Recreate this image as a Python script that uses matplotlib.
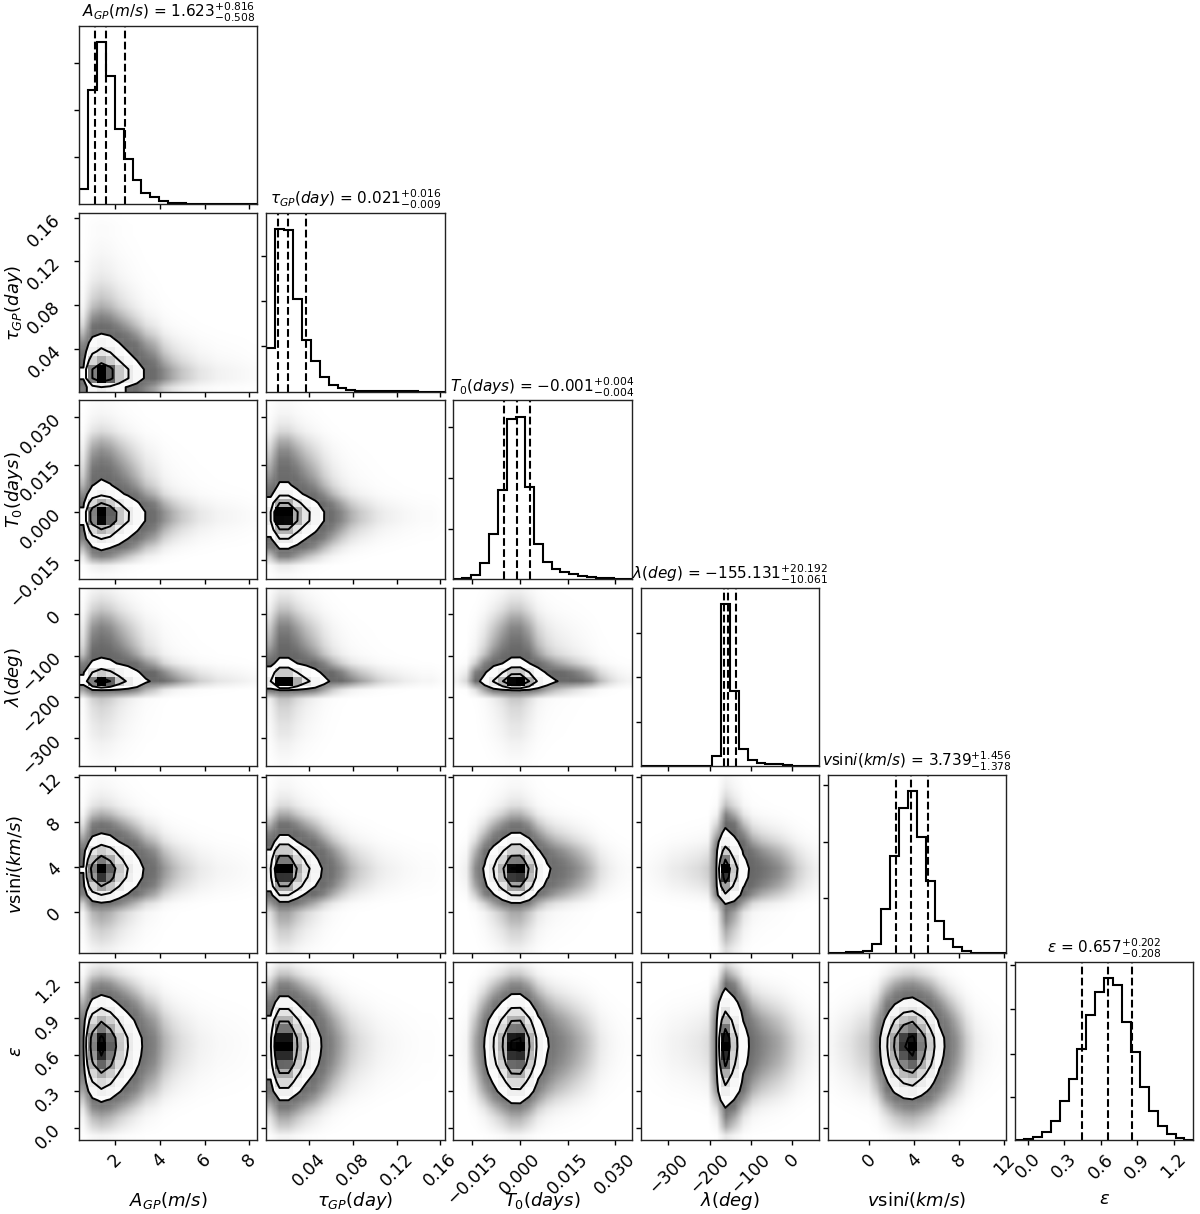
import numpy as np
import matplotlib
matplotlib.use("Agg")
import matplotlib.pyplot as plt
from matplotlib.colors import LinearSegmentedColormap
from matplotlib.ticker import FuncFormatter, FixedLocator

# parameter labels and the summary numbers printed in the titles
labels = [r"$A_{GP}(m/s)$", r"$\tau_{GP}(day)$", r"$T_0(days)$",
          r"$\lambda(deg)$", r"$v\mathrm{sin}i(km/s)$", r"$\varepsilon$"]
medians = [1.623, 0.021, -0.001, -155.131, 3.739, 0.657]
err_lo = [0.508, 0.009, 0.004, 10.061, 1.378, 0.208]
err_hi = [0.816, 0.016, 0.004, 20.192, 1.456, 0.202]

# axis ranges of each parameter
ranges = [(0.4, 8.36), (0.0008, 0.164), (-0.021, 0.0352),
          (-367.0, 65.0), (-3.68, 12.18), (-0.105, 1.362)]

# 20-bin marginal histograms (arbitrary units)
hist_A = [47, 340, 483, 382, 226, 134, 74, 34, 22, 9, 5, 3, 2, 1.2, 0.9, 0.6, 0.5, 0.4, 0.3, 0.2]
hist_tau = [131, 483, 482, 277, 155, 91, 43, 20, 10, 5, 3, 2, 1.2, 0.8, 0.6, 0.4, 0.3, 0.2, 0.2, 0.1]
hist_T0 = [0.3, 1, 12, 48, 133, 265, 478, 485, 274, 103, 50, 30, 21, 14, 9, 5, 2, 1, 0.5, 0.3]
hist_lam = [0.1, 0.2, 0.3, 0.5, 0.6, 0.8, 1.0, 1.5, 29, 487, 224, 52, 17, 10, 7, 5, 3, 1.5, 0.8, 0.4]
hist_vsini = [1, 2, 3, 5, 7, 28, 132, 292, 434, 485, 348, 216, 95, 42, 18, 6, 2, 1, 0.5, 0.3]
hist_eps = [1, 5, 10, 24, 58, 117, 184, 274, 376, 444, 486, 467, 355, 264, 159, 89, 42, 19, 6, 2]
hists = [hist_A, hist_tau, hist_T0, hist_lam, hist_vsini, hist_eps]

# tick values
ticks = [[2, 4, 6, 8], [0.04, 0.08, 0.12, 0.16], [-0.015, 0.0, 0.015, 0.030],
         [-300, -200, -100, 0], [0, 4, 8, 12], [0.0, 0.3, 0.6, 0.9, 1.2]]
tick_fmt = ["%g", "%.2f", "%.3f", "%d", "%d", "%.1f"]
hist_yticks = [[140, 280, 420], [135, 270, 405], [150, 302, 455],
               [132, 267, 400], [166, 333, 503], [130, 260, 394, 527]]

n_samples = 120000
K = len(labels)
W, H_PX = 1200, 1214
fig = plt.figure(figsize=(W / 100, H_PX / 100), dpi=100)

left0, top0, size, step = 79, 26, 178.4, 187.2


def make_fmt(f):
    return FuncFormatter(lambda v, p: (f % v).replace("-", "\u2212"))


def get_ax(i, j):
    x0 = left0 + j * step
    y0 = top0 + i * step
    return fig.add_axes([x0 / W, 1 - (y0 + size) / H_PX, size / W, size / H_PX])


def style_axes(ax):
    for s in ax.spines.values():
        s.set_linewidth(1.0)
        s.set_color("#222222")
    ax.tick_params(length=3.5, width=1.0, labelsize=12.5)
    ax.tick_params(axis="y", pad=7)


levels = 1.0 - np.exp(-0.5 * np.arange(0.5, 2.1, 0.5) ** 2)
density_cmap = LinearSegmentedColormap.from_list("dens", [(0, 0, 0, 1), (1, 1, 1, 0)])


def panel_2d(ax, hx, hy, rx, ry):
    hx = np.asarray(hx, float)
    hy = np.asarray(hy, float)
    nb = len(hx)
    xe = np.linspace(rx[0], rx[1], nb + 1)
    ye = np.linspace(ry[0], ry[1], nb + 1)
    H = np.outer(hy / hy.sum(), hx / hx.sum()) * n_samples

    # cloud of faint points, drawn as its expected darkness
    cover = 0.076
    rgba = np.zeros((nb, nb, 4))
    rgba[..., 3] = 0.62 * (1.0 - 0.9 ** (H * cover))
    ax.imshow(rgba, extent=[rx[0], rx[1], ry[0], ry[1]], origin="lower",
              aspect="auto", interpolation="bilinear", zorder=-1)

    # contour levels enclosing fixed fractions of the mass
    Hflat = np.sort(H.flatten())[::-1]
    sm = np.cumsum(Hflat)
    sm /= sm[-1]
    V = np.empty(len(levels))
    for k, v0 in enumerate(levels):
        sel = Hflat[sm <= v0]
        V[k] = sel[-1] if len(sel) else Hflat[0]
    V.sort()
    m = np.diff(V) == 0
    while np.any(m):
        V[np.where(m)[0][0]] *= 1.0 - 1e-4
        m = np.diff(V) == 0

    X1 = 0.5 * (xe[1:] + xe[:-1])
    Y1 = 0.5 * (ye[1:] + ye[:-1])
    H2 = H.min() + np.zeros((nb + 4, nb + 4))
    H2[2:-2, 2:-2] = H
    H2[2:-2, 1] = H[:, 0]
    H2[2:-2, -2] = H[:, -1]
    H2[1, 2:-2] = H[0]
    H2[-2, 2:-2] = H[-1]
    H2[1, 1] = H[0, 0]
    H2[1, -2] = H[0, -1]
    H2[-2, 1] = H[-1, 0]
    H2[-2, -2] = H[-1, -1]
    dx, dy = X1[1] - X1[0], Y1[1] - Y1[0]
    X2 = np.concatenate([X1[0] + np.array([-2, -1]) * dx, X1, X1[-1] + np.array([1, 2]) * dx])
    Y2 = np.concatenate([Y1[0] + np.array([-2, -1]) * dy, Y1, Y1[-1] + np.array([1, 2]) * dy])

    ax.contourf(X2, Y2, H2, [V.min(), H.max()], colors="white", antialiased=False)
    ax.pcolormesh(xe, ye, H.max() - H, cmap=density_cmap, shading="flat")
    ax.contour(X2, Y2, H2, V, colors="k", linewidths=1.4)
    ax.set_xlim(rx)
    ax.set_ylim(ry)


for i in range(K):
    for j in range(i + 1):
        ax = get_ax(i, j)
        style_axes(ax)
        if i == j:
            h = np.asarray(hists[i], float)
            edges = np.linspace(ranges[i][0], ranges[i][1], len(h) + 1)
            ax.stairs(h, edges, color="k", lw=1.5)
            q = [medians[i] - err_lo[i], medians[i], medians[i] + err_hi[i]]
            for v in q:
                ax.axvline(v, ls="dashed", color="k", lw=1.5)
            ax.set_xlim(ranges[i])
            ax.set_ylim(0, 1.1 * h.max())
            ax.yaxis.set_major_locator(FixedLocator(hist_yticks[i]))
            ax.set_yticklabels([])
            ax.set_title(labels[i] + " = " + r"${0}_{{-{1:.3f}}}^{{+{2:.3f}}}$".format(
                ("%.3f" % medians[i]).replace("-", "\u2212"), err_lo[i], err_hi[i]), fontsize=11)
        else:
            panel_2d(ax, hists[j], hists[i], ranges[j], ranges[i])
            ax.yaxis.set_major_locator(FixedLocator(ticks[i]))
            if j == 0:
                ax.yaxis.set_major_formatter(make_fmt(tick_fmt[i]))
                for lab in ax.get_yticklabels():
                    lab.set_rotation(45)
                ax.set_ylabel(labels[i], fontsize=13)
                ax.yaxis.set_label_coords(-0.3, 0.5)
            else:
                ax.set_yticklabels([])
        ax.xaxis.set_major_locator(FixedLocator(ticks[j]))
        if i == K - 1:
            ax.xaxis.set_major_formatter(make_fmt(tick_fmt[j]))
            for lab in ax.get_xticklabels():
                lab.set_rotation(45)
            ax.set_xlabel(labels[j], fontsize=13)
            ax.xaxis.set_label_coords(0.5, -0.28)
        else:
            ax.set_xticklabels([])

fig.savefig("out.png", dpi=100)
